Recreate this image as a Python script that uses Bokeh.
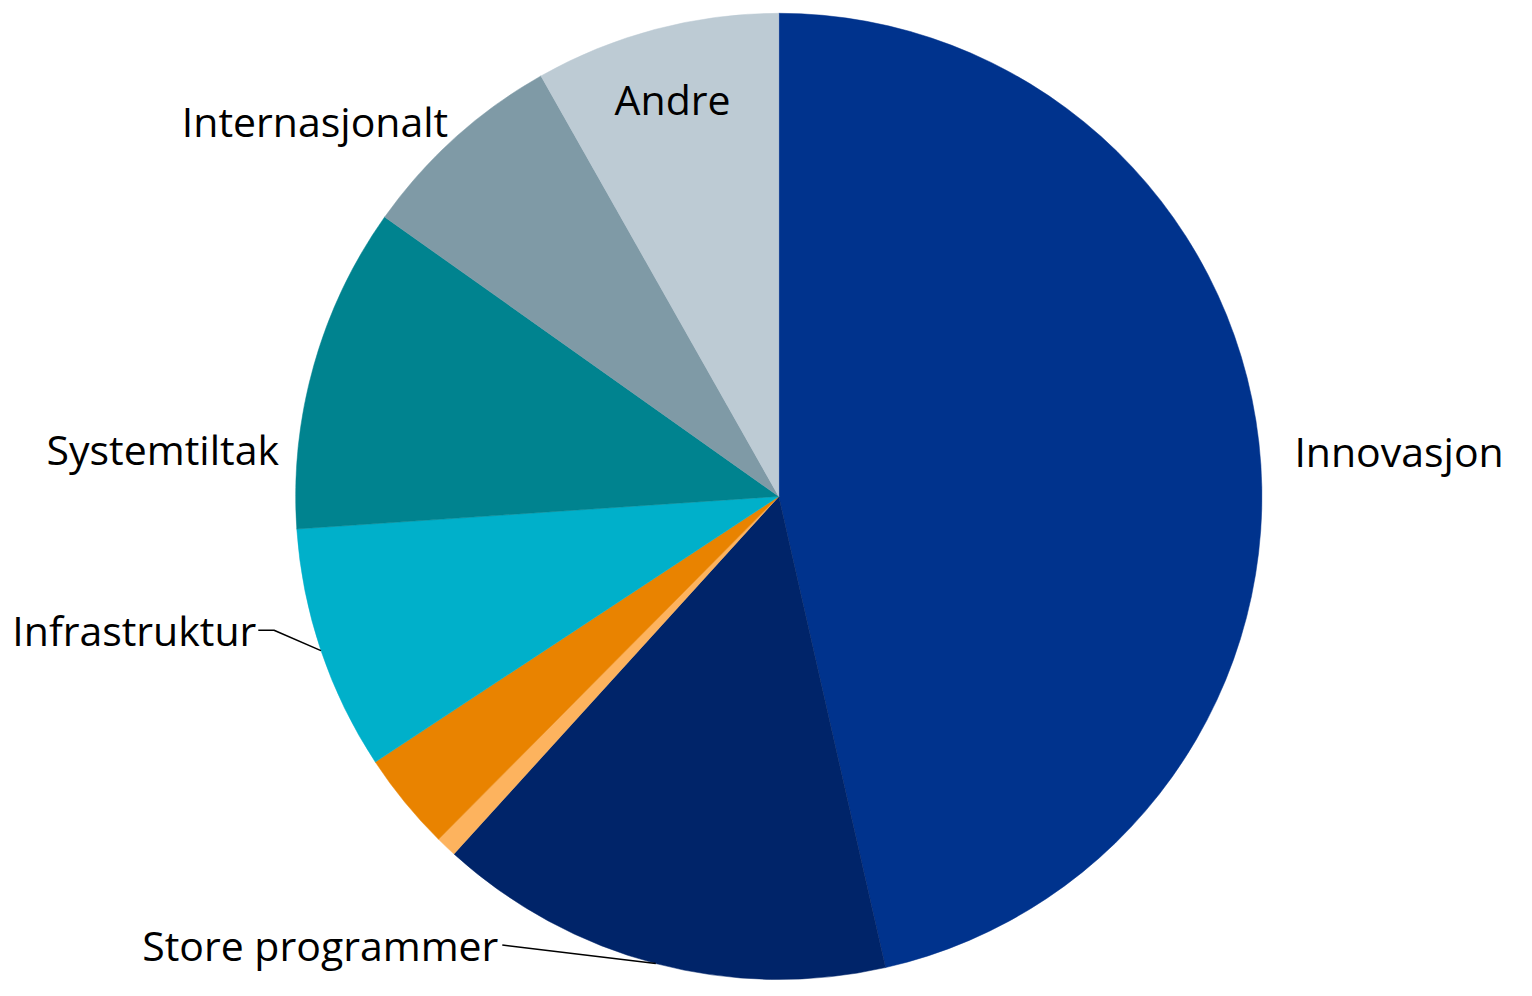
import math
from bokeh.plotting import figure
from bokeh.models import Range1d, ColumnDataSource
from bokeh.embed import file_html
from bokeh.resources import INLINE
from bokeh.core.properties import value

# ---- data (share of total, %) ----
categories = ["Innovasjon", "Store programmer", "", "", "Infrastruktur",
              "Systemtiltak", "Internasjonalt", "Andre"]
shares = [46.5, 15.3, 0.7, 3.3, 8.2, 10.9, 7.0, 8.2]
colors = ["#00338D", "#002469", "#FDB35E", "#E98300", "#00B0CA",
          "#00838F", "#7F9AA6", "#BDCBD4"]

# ---- layout (positions given in reference-image pixels) ----
W, H = 1516, 980
S = H / 996.0              # screen px per reference px
CX, CY = 791, 504          # pie centre
R = 491
FONT = "Open Sans"
FS = "41px"

# label anchors: x, baseline y, align
label_pos = {
    "Innovasjon": (1315, 458, "left"),
    "Andre": (683, 100, "center"),
    "Internasjonalt": (455, 122, "right"),
    "Systemtiltak": (283, 456, "right"),
    "Infrastruktur": (260, 640, "right"),
    "Store programmer": (506, 960, "right"),
}
leaders = {
    "Infrastruktur": [(262, 640), (278, 640)],
    "Store programmer": [(510, 960)],
}

def px(x):
    return x - CX

def py(y):
    return CY - y

p = figure(width=W, height=H, output_backend="svg", toolbar_location=None,
           x_range=Range1d(px(0), px(W / S)), y_range=Range1d(py(H / S), py(0)),
           min_border=0)
p.axis.visible = False
p.grid.visible = False
p.outline_line_color = None
p.background_fill_color = "white"
p.border_fill_color = "white"

total = sum(shares)
starts, ends, mids = [], [], []
c = 0.0
for s in shares:
    c0 = c
    c += s / total
    starts.append(math.pi / 2 - 2 * math.pi * c0)
    ends.append(math.pi / 2 - 2 * math.pi * c)
    mids.append(math.pi / 2 - 2 * math.pi * (c0 + c) / 2)

src = ColumnDataSource(dict(start=starts, end=ends, color=colors, cat=categories))
p.wedge(x=0, y=0, radius=R, start_angle="start", end_angle="end",
        direction="clock", fill_color="color", line_color="color",
        line_width=0.5, source=src)

for cat, m in zip(categories, mids):
    if cat in leaders:
        pts = leaders[cat]
        xs = [px(a) for a, b in pts] + [R * math.cos(m)]
        ys = [py(b) for a, b in pts] + [R * math.sin(m)]
        p.line(xs, ys, line_color="black", line_width=1.5)
    if cat in label_pos:
        lx, ly, al = label_pos[cat]
        p.text(x=[px(lx)], y=[py(ly)], text=[cat], text_font=value(FONT),
               text_font_size=FS, text_align=al, text_baseline="alphabetic",
               text_color="black")

open("out.html", "w").write(file_html(p, INLINE))
